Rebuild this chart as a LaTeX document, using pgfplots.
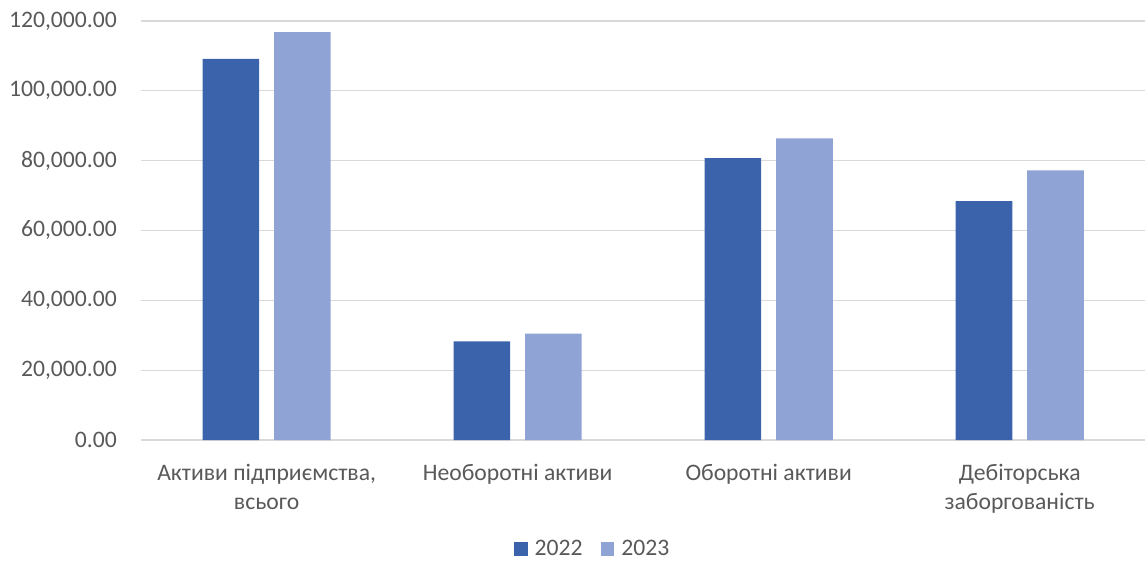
\documentclass[border=0pt]{standalone}
\usepackage{pgfplots}
\pgfplotsset{compat=1.18}
\usetikzlibrary{calc}
\usepackage{fontspec}
\setmainfont{Carlito}
\definecolor{cA}{RGB}{59,99,172}
\definecolor{cB}{RGB}{143,164,213}
\definecolor{gridc}{RGB}{217,217,217}
\definecolor{txt}{RGB}{89,89,89}
\begin{document}
\fontsize{11.9}{14.5}\selectfont
\begin{tikzpicture}
\begin{axis}[
  scale only axis,
  width=505.35pt, height=211pt,
  ybar=7.5pt, bar width=28.5pt,
  xmin=-0.5, xmax=3.5,
  ymin=0, ymax=120000,
  ytick={0,20000,40000,60000,80000,100000,120000},
  xtick=data,
  xticklabels={{Активи підприємства,\\всього},{Необоротні активи},{Оборотні активи},{Дебіторська\\заборгованість}},
  scaled y ticks=false,
  yticklabel style={/pgf/number format/fixed, /pgf/number format/fixed zerofill, /pgf/number format/precision=2, /pgf/number format/1000 sep={,}, /pgf/number format/assume math mode=true,
    anchor=east, inner sep=0pt, xshift=-12pt, text=txt, font=\fontsize{11.9}{14.5}\selectfont},
  xticklabel style={align=center, anchor=north, inner sep=0pt, yshift=-12pt, text=txt, font=\fontsize{11.9}{14.5}\selectfont},
  major tick length=0pt,
  ymajorgrids, grid style={gridc, line width=0.75pt},
  axis x line*=bottom, axis y line*=left,
  x axis line style={gridc, line width=0.75pt, -},
  y axis line style={draw=none},
  legend style={at={(0.4506,-0.2607)}, anchor=center, draw=none, fill=none, legend columns=2,
    /tikz/every odd column/.append style={column sep=1.5pt},
    /tikz/every even column/.append style={column sep=7pt},
    font=\fontsize{11.9}{14.5}\selectfont, text=txt, inner sep=0pt},
  legend image code/.code={\fill[#1] (0pt,-3.5pt) rectangle (7pt,3.5pt);},
]
\addplot[fill=cA, draw=none] coordinates {(0,109100) (1,28300) (2,80700) (3,68400)};
\addplot[fill=cB, draw=none] coordinates {(0,116800) (1,30500) (2,86400) (3,77200)};
\legend{2022,2023}
\coordinate (bl) at (rel axis cs:0,0);
\coordinate (tr) at (rel axis cs:1,1);
\end{axis}
\path[use as bounding box] ($(bl)+(-71pt,-60pt)$) rectangle ($(tr)+(-3.35pt,10.5pt)$);
\end{tikzpicture}
\end{document}
